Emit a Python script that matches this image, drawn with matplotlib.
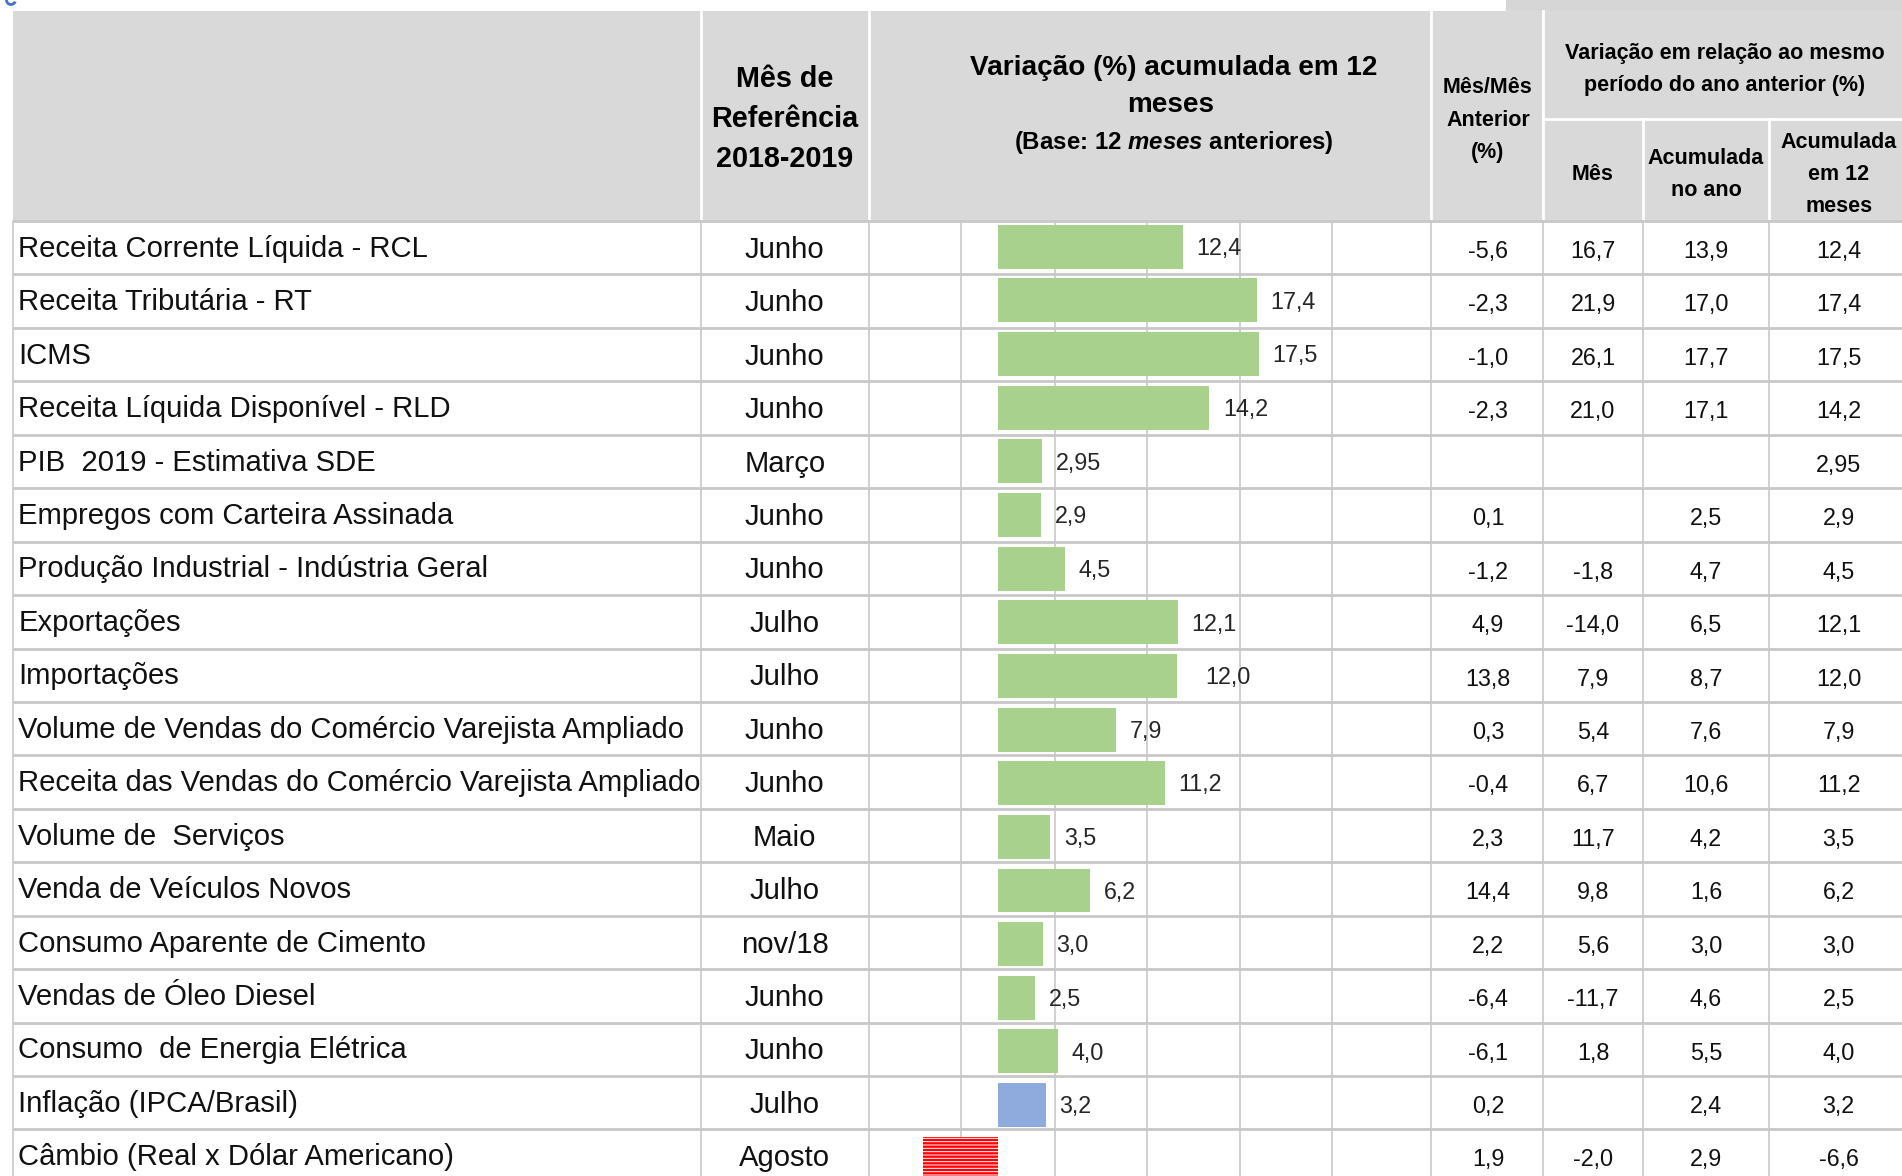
import matplotlib.pyplot as plt
from matplotlib.patches import Rectangle, Arc

plt.rcParams['font.family'] = ['Liberation Sans', 'DejaVu Sans']
plt.rcParams['mathtext.fontset'] = 'custom'
plt.rcParams['mathtext.rm'] = 'Liberation Sans:bold'
plt.rcParams['mathtext.it'] = 'Liberation Sans:italic:bold'
plt.rcParams['hatch.linewidth'] = 0.7

indicadores = [
    "Receita Corrente Líquida - RCL",
    "Receita Tributária - RT",
    "ICMS",
    "Receita Líquida Disponível - RLD",
    "PIB  2019 - Estimativa SDE",
    "Empregos com Carteira Assinada",
    "Produção Industrial - Indústria Geral",
    "Exportações",
    "Importações",
    "Volume de Vendas do Comércio Varejista Ampliado",
    "Receita das Vendas do Comércio Varejista Ampliado",
    "Volume de  Serviços",
    "Venda de Veículos Novos",
    "Consumo Aparente de Cimento",
    "Vendas de Óleo Diesel",
    "Consumo  de Energia Elétrica",
    "Inflação (IPCA/Brasil)",
    "Câmbio (Real x Dólar Americano)",
]
meses_ref = ["Junho", "Junho", "Junho", "Junho", "Março", "Junho", "Junho", "Julho", "Julho",
             "Junho", "Junho", "Maio", "Julho", "nov/18", "Junho", "Junho", "Julho", "Agosto"]
acum_12 = [12.4, 17.4, 17.5, 14.2, 2.95, 2.9, 4.5, 12.1, 12.0, 7.9, 11.2, 3.5, 6.2, 3.0, 2.5, 4.0, 3.2, -6.6]
mes_mes_ant = [-5.6, -2.3, -1.0, -2.3, None, 0.1, -1.2, 4.9, 13.8, 0.3, -0.4, 2.3, 14.4, 2.2, -6.4, -6.1, 0.2, 1.9]
var_mes = [16.7, 21.9, 26.1, 21.0, None, None, -1.8, -14.0, 7.9, 5.4, 6.7, 11.7, 9.8, 5.6, -11.7, 1.8, None, -2.0]
var_acum_ano = [13.9, 17.0, 17.7, 17.1, None, 2.5, 4.7, 6.5, 8.7, 7.6, 10.6, 4.2, 1.6, 3.0, 4.6, 5.5, 2.4, 2.9]
var_acum_12 = [12.4, 17.4, 17.5, 14.2, 2.95, 2.9, 4.5, 12.1, 12.0, 7.9, 11.2, 3.5, 6.2, 3.0, 2.5, 4.0, 3.2, -6.6]


def fmt(v):
    if v is None:
        return ""
    s = f"{v:.2f}" if abs(round(v, 1) - v) > 1e-9 else f"{v:.1f}"
    return s.replace(".", ",")


W, H = 1902, 1176
fig = plt.figure(figsize=(W / 100, H / 100), dpi=100)
ax = fig.add_axes([0, 0, 1, 1])
ax.set_xlim(0, W)
ax.set_ylim(H, 0)
ax.axis("off")

# table layout (pixels)
cols = [13, 701, 868.5, 1431, 1543, 1643, 1769, 1910]
top, head_bot, row_h = 11, 221, 53.44
grid_inner = [961, 1054.7, 1147.3, 1240, 1332]
gray_head = "#D9D9D9"
line_col = "#C8C8C8"

ax.add_patch(Rectangle((cols[0], top), cols[-1] - cols[0], head_bot - top, color=gray_head, lw=0))
ax.add_patch(Rectangle((1506, 0), W - 1506, 10.5, color="#D6D6D6", lw=0))
# scrap of a cut-off glyph at the very top left
ax.add_patch(Arc((11, 0), 9, 9, theta1=20, theta2=180, color="#4472C4", lw=2))

for x in cols[1:5]:
    ax.plot([x, x], [top, head_bot], color="white", lw=2)
for x in cols[5:7]:
    ax.plot([x, x], [119, head_bot], color="white", lw=2)
ax.plot([cols[4], cols[-1]], [119, 119], color="white", lw=2)

n = len(indicadores)
for i in range(n + 1):
    y = head_bot + i * row_h
    ax.plot([cols[0], cols[-1]], [y, y], color=line_col, lw=2, solid_capstyle="butt")
for x in cols[:-1] + grid_inner:
    ax.plot([x, x], [head_bot, H], color=line_col, lw=1.2)

# header texts
hb = dict(fontweight="bold", ha="center", va="baseline", color="black")
mcx = (cols[1] + cols[2]) / 2
for txt, yc in [("Mês de", 76.7), ("Referência", 116.7), ("2018-2019", 156.7)]:
    ax.text(mcx, yc + 10.3, txt, fontsize=20.7, **hb)
ax.text(1174, 65 + 10, "Variação (%) acumulada em 12", fontsize=20.1, **hb)
ax.text(1171, 101.7 + 10, "meses", fontsize=20.1, **hb)
ax.text(1174, 140 + 8.6, r"(Base: 12 $\mathit{meses}$ anteriores)", fontsize=17.3, **hb)

num_x = [1488, 1593, 1706, 1838.6]
small = [
    ("Mês/Mês", num_x[0], 85), ("Anterior", num_x[0], 118.3), ("(%)", num_x[0], 150),
    ("Variação em relação ao mesmo", 1725, 51.7), ("período do ano anterior (%)", 1725, 83.3),
    ("Mês", num_x[1], 172.7), ("Acumulada", num_x[2], 156.7), ("no ano", num_x[2], 188.3),
    ("Acumulada", num_x[3], 140), ("em 12", num_x[3], 172.7), ("meses", num_x[3], 204),
]
for txt, x, yc in small:
    ax.text(x, yc + 7.7, txt, fontsize=15.5, **hb)

# body texts
for i in range(n):
    y0 = head_bot + i * row_h
    ax.text(18.4, y0 + 35.8, indicadores[i], fontsize=21.1, va="baseline", ha="left", color="#111111")
    ax.text(mcx, y0 + 36.8, meses_ref[i], fontsize=21.1, va="baseline", ha="center", color="#111111")
    for x, serie in zip(num_x, [mes_mes_ant, var_mes, var_acum_ano, var_acum_12]):
        ax.text(x, y0 + 37, fmt(serie[i]), fontsize=16.8, va="baseline", ha="center", color="#111111")

# bar chart embedded in the table
ppu = 14.87
zero_x = 998.3
chart_left = 922.5
cat0, cat_step = 246.7, 53.65
bx = fig.add_axes([chart_left / W, 0, (cols[3] - chart_left) / W, (H - head_bot) / H])
bx.set_xlim(-(zero_x - chart_left) / ppu, (cols[3] - zero_x) / ppu)
bx.set_ylim((H - cat0) / cat_step, -(cat0 - head_bot) / cat_step)
bx.axis("off")
bx.patch.set_alpha(0)

colors = []
for name in indicadores:
    if name.startswith("Inflação"):
        colors.append("#8FAADC")
    elif name.startswith("Câmbio"):
        colors.append("#FF0000")
    else:
        colors.append("#A9D18E")
bars = bx.barh(range(n), acum_12, height=0.82, color=colors, lw=0)
for b, name in zip(bars, indicadores):
    if name.startswith("Câmbio"):
        b.set_hatch("-----")
        b.set_edgecolor("white")
        b.set_linewidth(0)

gap = 13.5 / ppu
for i, v in enumerate(acum_12):
    if v <= 0:
        continue
    dx = gap + (15 / ppu if indicadores[i] == "Importações" else 0)
    bx.text(v + dx, i + 8.3 / cat_step, fmt(v), fontsize=16.8, color="#262626",
            va="baseline", ha="left")

fig.savefig("out.png", dpi=100)
